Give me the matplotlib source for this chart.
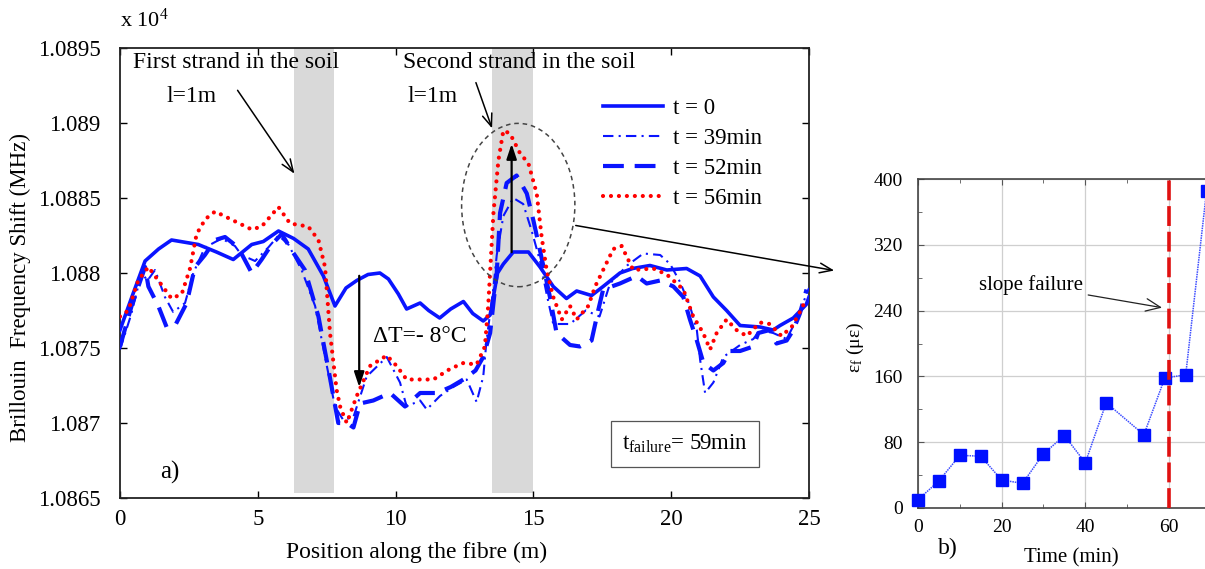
import matplotlib
matplotlib.use("Agg")
import matplotlib.pyplot as plt
from matplotlib.patches import Ellipse

plt.rcParams['font.family'] = ['Liberation Serif', 'DejaVu Serif']
plt.rcParams['mathtext.fontset'] = 'custom'
plt.rcParams['mathtext.rm'] = 'Liberation Serif'
plt.rcParams['mathtext.it'] = 'Liberation Serif:italic'

# ---------------- data: panel a) ----------------
t0_x = [0, 0.45, 0.91, 1.4, 1.87, 2.84, 3.5, 4.11, 4.78, 5.2, 5.75, 6.3, 6.83, 7.38, 7.8, 8.2, 8.59, 9.0,
        9.43, 9.74, 10.1, 10.4, 10.89, 11.2, 11.6, 12.0, 12.46, 12.8, 13.18, 13.43, 13.7, 13.91, 14.27,
        14.82, 15.24, 15.72, 16.2, 16.57, 17.11, 17.53, 18.14, 18.6, 19.23, 19.84, 20.56, 21.05, 21.53,
        22.01, 22.5, 23.22, 23.7, 23.95, 24.43, 24.9, 25]
t0_y = [1.08762, 1.08785, 1.08808, 1.08816, 1.08822, 1.08819, 1.08814, 1.08809, 1.08819, 1.08821, 1.08828,
        1.08823, 1.08816, 1.08798, 1.08778, 1.08790, 1.08795, 1.08799, 1.08800, 1.08796, 1.08786, 1.08776,
        1.08780, 1.08775, 1.08770, 1.08776, 1.08781, 1.08773, 1.08768, 1.08772, 1.08800, 1.08806, 1.08814,
        1.08814, 1.08804, 1.08791, 1.08783, 1.08788, 1.08785, 1.08791, 1.08800, 1.08803, 1.08805, 1.08802,
        1.08803, 1.08798, 1.08784, 1.08775, 1.08765, 1.08764, 1.08762, 1.08765, 1.08770, 1.08779, 1.08784]

t39_x = [0, 0.4, 0.78, 1.0, 1.27, 1.63, 1.93, 2.36, 2.66, 3.08, 3.69, 4.17, 4.41, 4.9, 5.38, 5.75, 6.11,
         6.59, 7.08, 7.44, 7.8, 8.1, 8.47, 8.95, 9.68, 10.16, 10.4, 10.89, 11.13, 11.61, 12.09, 12.58,
         12.94, 13.18, 13.3, 13.55, 13.67, 13.91, 14.27, 14.63, 14.94, 15.24, 15.48, 15.72, 16.33, 16.9,
         17.4, 17.78, 18.4, 18.99, 19.6, 19.96, 20.32, 20.68, 20.93, 21.05, 21.23, 21.53, 21.89, 22.5,
         22.98, 23.22, 23.7, 24.19, 24.55, 24.85, 25]
t39_y = [1.08749, 1.08772, 1.08800, 1.08795, 1.08802, 1.08784, 1.08774, 1.08780, 1.08800, 1.08817, 1.08823,
         1.08818, 1.08812, 1.08808, 1.08817, 1.08825, 1.08819, 1.08802, 1.08778, 1.08744, 1.08711, 1.08702,
         1.08704, 1.08731, 1.08744, 1.08727, 1.08711, 1.08715, 1.08709, 1.08718, 1.08724, 1.08729, 1.08714,
         1.08731, 1.08755, 1.08790, 1.08812, 1.08838, 1.08850, 1.08846, 1.08828, 1.08808, 1.08786, 1.08766,
         1.08766, 1.08775, 1.08771, 1.08793, 1.08805, 1.08813, 1.08812, 1.08806, 1.08794, 1.08778, 1.08762,
         1.08742, 1.08720, 1.08727, 1.08744, 1.08752, 1.08756, 1.08762, 1.08760, 1.08756, 1.08769, 1.08783,
         1.08790]

t52_x = [0, 0.42, 0.91, 1.03, 1.39, 1.69, 2.0, 2.42, 2.72, 3.08, 3.45, 3.81, 4.29, 4.78, 5.14, 5.5, 5.87,
         6.23, 6.71, 7.2, 7.56, 7.92, 8.23, 8.47, 8.71, 9.19, 9.8, 10.34, 10.89, 11.5, 12.0, 12.46, 12.9,
         13.18, 13.43, 13.67, 13.79, 14.03, 14.39, 14.76, 15.0, 15.24, 15.6, 15.84, 16.33, 16.69, 17.11,
         17.35, 17.53, 18.14, 18.75, 19.11, 19.6, 20.08, 20.44, 20.68, 20.93, 21.17, 21.53, 21.89, 22.13,
         22.5, 22.98, 23.16, 23.58, 23.82, 24.19, 24.43, 24.67, 24.91]
t52_y = [1.08751, 1.08778, 1.08804, 1.08791, 1.08778, 1.08764, 1.08765, 1.08780, 1.08804, 1.08812, 1.08822,
         1.08824, 1.08817, 1.08800, 1.08809, 1.08819, 1.08826, 1.08815, 1.08802, 1.08771, 1.08736, 1.08700,
         1.08700, 1.08697, 1.08713, 1.08715, 1.08720, 1.08711, 1.08720, 1.08720, 1.08724, 1.08729, 1.08735,
         1.08744, 1.08760, 1.08800, 1.08840, 1.08860, 1.08865, 1.08853, 1.08835, 1.08815, 1.08784, 1.08760,
         1.08752, 1.08751, 1.08755, 1.08775, 1.08789, 1.08793, 1.08798, 1.08793, 1.08795, 1.08791, 1.08784,
         1.08769, 1.08755, 1.08740, 1.08735, 1.08740, 1.08748, 1.08748, 1.08751, 1.08760, 1.08762, 1.08753,
         1.08755, 1.08762, 1.08773, 1.08789]

t56_x = [0, 0.3, 0.66, 1.03, 1.39, 1.87, 2.24, 2.54, 2.78, 3.1, 3.45, 4.11, 4.78, 5.14, 5.75, 6.17, 6.83,
         7.2, 7.44, 7.62, 7.86, 8.0, 8.23, 8.59, 9.07, 9.68, 10.04, 10.4, 11.37, 11.97, 12.46, 12.94, 13.24,
         13.36, 13.55, 13.73, 13.91, 14.15, 14.51, 14.82, 15.12, 15.3, 15.48, 15.72, 16.03, 16.33, 16.57,
         16.99, 17.24, 17.53, 17.9, 18.2, 18.62, 19.35, 19.84, 20.44, 20.8, 21.16, 21.41, 21.65, 22.01,
         22.37, 22.74, 23.22, 23.58, 24.0, 24.37, 24.73, 24.9]
t56_y = [1.08771, 1.08775, 1.08795, 1.08804, 1.08795, 1.08783, 1.08786, 1.08803, 1.08826, 1.08836, 1.08841,
         1.08835, 1.08829, 1.08831, 1.08844, 1.08833, 1.08831, 1.08822, 1.08804, 1.08760, 1.08722, 1.08710,
         1.08700, 1.08718, 1.08738, 1.08745, 1.08738, 1.08729, 1.08729, 1.08736, 1.08740, 1.08739, 1.08751,
         1.08778, 1.08840, 1.08875, 1.08895, 1.08893, 1.08880, 1.08873, 1.08853, 1.08824, 1.08802, 1.08784,
         1.08769, 1.08778, 1.08769, 1.08778, 1.08791, 1.08802, 1.08816, 1.08818, 1.08802, 1.08803, 1.08799,
         1.08789, 1.08771, 1.08760, 1.08749, 1.08760, 1.08769, 1.08762, 1.08758, 1.08767, 1.08766, 1.08758,
         1.08764, 1.08776, 1.08783]

legend_labels = ['t = 0', 't = 39min', 't = 52min', 't = 56min']
a_yticks = [1.0865, 1.087, 1.0875, 1.088, 1.0885, 1.089, 1.0895]
a_yticklabels = ['1.0865', '1.087', '1.0875', '1.088', '1.0885', '1.089', '1.0895']
a_xticks = [0, 5, 10, 15, 20, 25]
strand_bands = [(6.3, 7.75), (13.5, 14.97)]

# ---------------- data: panel b) ----------------
time_min = [0, 5, 10, 15, 20, 25, 30, 35, 40, 45, 54, 59, 64, 69]
strain = [10, 33, 64, 63, 34, 30, 66, 88, 55, 128, 89, 158, 162, 386]
failure_line = 60
b_yticks = [0, 80, 160, 240, 320, 400]
b_xticks = [0, 20, 40, 60]

W, H = 1205, 569
fig = plt.figure(figsize=(W / 100, H / 100), dpi=100)


def fp(x, y):
    return (x / W, 1 - y / H)


BLUE = '#0a14ff'
RED = '#ff0000'

# ---------------- panel a ----------------
ax = fig.add_axes([120 / W, 1 - 498 / H, (809 - 120) / W, (498 - 48) / H])
ax.set_xlim(0, 25)
ax.set_ylim(1.0865, 1.0895)
for (b0, b1) in strand_bands:
    ax.axvspan(b0, b1, ymin=0.012, ymax=1, color='#d9d9d9', lw=0, zorder=0)

l0, = ax.plot(t0_x, t0_y, color=BLUE, lw=2.6, label=legend_labels[0], zorder=3)
l39, = ax.plot(t39_x, t39_y, color=BLUE, lw=1.5, linestyle=(0, (5, 2.5, 1, 2.5)),
               label=legend_labels[1], zorder=3)
l52, = ax.plot(t52_x, t52_y, color=BLUE, lw=3.0, linestyle=(0, (5, 2.6)),
               label=legend_labels[2], zorder=3)
l56, = ax.plot(t56_x, t56_y, color=RED, lw=3.0, linestyle=(0, (0.01, 1.9)),
               dash_capstyle='round', label=legend_labels[3], zorder=4)

ax.set_xticks(a_xticks)
ax.set_xticklabels([str(v) for v in a_xticks])
ax.set_yticks(a_yticks)
ax.set_yticklabels(a_yticklabels)
ax.tick_params(direction='in', top=True, right=True, length=5, width=1, labelsize=16.5)
ax.tick_params(axis='y', pad=14)
ax.tick_params(axis='x', pad=8)
for s in ax.spines.values():
    s.set_linewidth(1.3)
    s.set_color('#222222')

leg = ax.legend(handles=[l0, l39, l52, l56], loc='upper right', bbox_to_anchor=(0.945, 0.91),
                frameon=False, fontsize=16.5, handlelength=2.6, handletextpad=0.45,
                labelspacing=0.4, borderaxespad=0)

# ellipse around second strand
ell = Ellipse((14.45, 1.088453), 4.11, 0.001089, fill=False, ec='#444444', lw=1.1,
              linestyle=(0, (3, 2.5)), zorder=5)
ax.add_patch(ell)

# annotations
fig.text(*fp(133, 63), 'First strand in the soil', fontsize=17, va='center', ha='left')
fig.text(*fp(166, 97), 'l=1m', fontsize=17, va='center', ha='left')
fig.text(*fp(403, 63), 'Second strand in the soil', fontsize=17, va='center', ha='left')
fig.text(*fp(407, 97), 'l=1m', fontsize=17, va='center', ha='left')
fig.text(*fp(120, 20), 'x 10$^4$', fontsize=16, va='center', ha='left')

ax.annotate('', xy=fp(296, 176), xycoords='figure fraction', xytext=fp(236, 88),
            textcoords='figure fraction',
            arrowprops=dict(arrowstyle='->,head_length=0.9,head_width=0.35', color='black', lw=1.1))
ax.annotate('', xy=fp(493, 131), xycoords='figure fraction', xytext=fp(475, 80),
            textcoords='figure fraction',
            arrowprops=dict(arrowstyle='->,head_length=0.9,head_width=0.35', color='black', lw=1.1))
ax.annotate('', xy=fp(837, 271), xycoords='figure fraction', xytext=fp(573, 225),
            textcoords='figure fraction',
            arrowprops=dict(arrowstyle='->,head_length=0.9,head_width=0.35', color='black', lw=1.1))

# delta T arrows
ax.annotate('', xy=(8.68, 1.08722), xytext=(8.68, 1.08800),
            arrowprops=dict(arrowstyle='-|>,head_length=0.9,head_width=0.3', color='black', lw=1.6),
            zorder=6)
ax.annotate('', xy=(14.21, 1.08888), xytext=(14.21, 1.08812),
            arrowprops=dict(arrowstyle='-|>,head_length=0.9,head_width=0.3', color='black', lw=1.6),
            zorder=6)
ax.text(9.18, 1.08758, 'ΔT=- 8°C', fontsize=17, va='center', ha='left')
ax.text(1.45, 1.08667, 'a)', fontsize=18, va='center', ha='left')
ax.text(20.5, 1.08686, r'$\mathregular{t_{failure}}$= 59min', fontsize=16.5, va='center', ha='center',
        bbox=dict(boxstyle='square,pad=0.5', fc='white', ec='#555555', lw=0.9))

fig.text(*fp(417, 552), 'Position along the fibre (m)', fontsize=17, ha='center', va='center')
fig.text(*fp(20, 288), 'Brillouin  Frequency Shift (MHz)', fontsize=16.5, ha='center', va='center',
         rotation=90)

# ---------------- panel b ----------------
bx = fig.add_axes([918 / W, 1 - 508 / H, (80 * 4.183) / W, (508 - 179) / H])
bx.set_xlim(0, 80)
bx.set_ylim(0, 400)
bx.set_xticks(b_xticks)
bx.set_xticks([10, 30, 50, 70], minor=True)
bx.set_yticks(b_yticks)
bx.set_yticks([40, 120, 200, 280, 360], minor=True)
bx.grid(True, which='major', color='#cfcfcf', lw=0.9)
bx.set_axisbelow(True)
bx.tick_params(which='both', direction='in', top=True, right=True, labelsize=14, color='#555555')
bx.tick_params(which='major', length=4)
bx.tick_params(which='minor', length=3)
bx.tick_params(axis='y', pad=11)
bx.tick_params(axis='x', pad=8)
for s in bx.spines.values():
    s.set_linewidth(1.2)
    s.set_color('#444444')

bx.plot(time_min, strain, color='#3d4dff', lw=1.1, linestyle=(0, (1, 0.6)), marker='s',
        markersize=8, markerfacecolor='#0010ff', markeredgecolor='#0010ff', zorder=3, clip_on=False)
bx.axvline(failure_line, color='#e01010', lw=2.6, linestyle=(0, (5.5, 1.6)), zorder=4)
bx.annotate('slope failure', xy=(59, 243), xytext=(14.5, 271), fontsize=15, va='center',
            arrowprops=dict(arrowstyle='->,head_length=0.7,head_width=0.3', color='#222222', lw=0.9))

fig.text(*fp(855, 347), 'ε$_\\mathregular{f}$ (με)', fontsize=14, ha='center', va='center', rotation=90)
fig.text(*fp(1071, 558), 'Time (min)', fontsize=15, ha='center', va='center')
fig.text(*fp(948, 548), 'b)', fontsize=17, ha='center', va='center')

fig.savefig('out.png', dpi=100)
